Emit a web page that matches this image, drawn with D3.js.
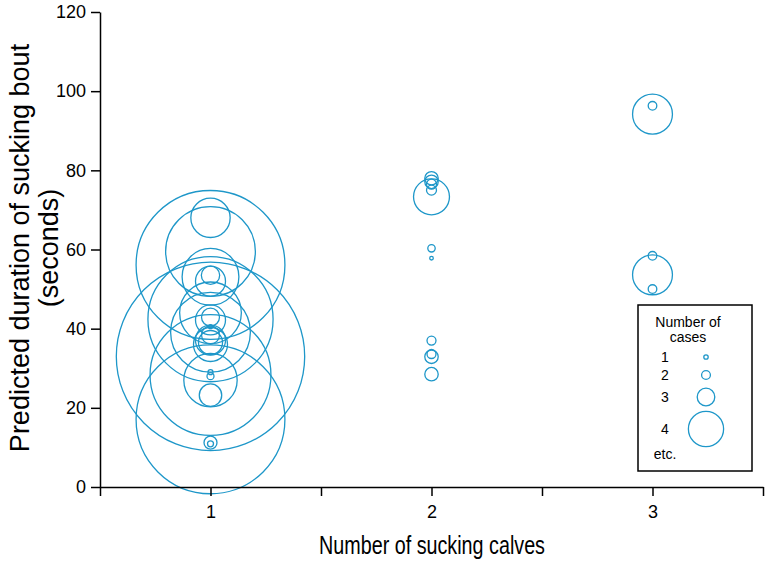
<!DOCTYPE html>
<html>
<head>
<meta charset="utf-8">
<script src="https://cdn.jsdelivr.net/npm/d3@7"></script>
<style>
  html, body { margin: 0; padding: 0; background: #fff; }
  svg { display: block; font-family: "Liberation Sans", Arial, sans-serif; }
</style>
</head>
<body>
<svg id="chart" width="768" height="566"></svg>
<script>
// ---- data ----
const calves   = [1,1,1,1,1,1,1,1,1,1,1,1,1,1,1,1,1,1,1,1,1,1,1,1,1,
                  2,2,2,2,2,2,2,2,2,2,2,
                  3,3,3,3,3];
const duration = [56.1,68.0,59.5,53.1,53.5,52.0,42.4,33.0,28.3,17.1,39.1,44.0,27.0,23.2,29.0,28.0,11.2,10.9,42.9,42.2,40.5,38.4,37.1,36.5,36.0,
                  73.3,78.0,77.1,76.5,75.0,60.3,57.8,37.0,33.6,32.9,28.5,
                  94.2,96.3,53.6,58.4,50.0];
const caseWeight = [6.08,4.16,5.35,4.69,3.06,3.77,5.83,6.42,5.78,6.08,5.18,4.81,4.60,3.35,1.18,1.67,2.56,1.45,3.03,3.77,0.86,3.03,3.77,3.45,3.95,
                    4.03,2.61,2.61,2.18,2.18,1.75,0.71,2.03,2.03,2.61,2.61,
                    4.18,1.97,4.18,1.97,1.97];
const yTicks = [0,20,40,60,80,100,120];
const xTicks = [0.5,1,1.5,2,2.5,3,3.5];
const xTickLabels = ["", "1", "", "2", "", "3", ""];
const legendCases = [1,2,3,4];
const legendLabels = ["1","2","3","4"];

const points = calves.map((c,i) => ({x:c, y:duration[i], w:caseWeight[i]}));

// ---- scales ----
const svg = d3.select("#chart");
const x = d3.scaleLinear().domain([0.5, 3.5]).range([100, 763]);
const y = d3.scaleLinear().domain([0, 120]).range([487, 12]);
// radius doubles per case step: log2 scale inverted
const rScale = d3.scaleLog().base(2).domain([2.2, 17.6]).range([1, 4]);
const r = w => rScale.invert(w);
const blue = "#1e97c9";

// ---- circles ----
svg.append("g").selectAll("circle").data(points).join("circle")
  .attr("cx", d => x(d.x))
  .attr("cy", d => y(d.y))
  .attr("r", d => r(d.w))
  .attr("fill", "none")
  .attr("stroke", blue)
  .attr("stroke-width", 1.3);

// ---- axes ----
const yAxis = d3.axisLeft(y).tickValues(yTicks).tickSize(9).tickSizeOuter(0).tickPadding(5);
const gy = svg.append("g").attr("transform", "translate(100,0)").call(yAxis);
const xAxis = d3.axisBottom(x).tickValues(xTicks).tickSize(9).tickSizeOuter(0).tickPadding(9)
  .tickFormat((d,i) => xTickLabels[i]);
const gx = svg.append("g").attr("transform", "translate(0,487)").call(xAxis);
[gx, gy].forEach(g => {
  g.select(".domain").attr("stroke", "#000").attr("stroke-width", 1.5);
  g.selectAll(".tick line").attr("stroke", "#000").attr("stroke-width", 1.5);
  g.selectAll(".tick text").attr("fill", "#000").style("font-size", "18px")
    .style("font-family", "'Liberation Sans', Arial, sans-serif");
});

// ---- axis titles ----
svg.append("text")
  .attr("x", 432).attr("y", 554)
  .attr("text-anchor", "middle")
  .attr("textLength", 226)
  .attr("lengthAdjust", "spacingAndGlyphs")
  .style("font-size", "26px")
  .text("Number of sucking calves");

const yt = svg.append("text")
  .attr("transform", "translate(0,248) rotate(-90)")
  .attr("text-anchor", "middle")
  .style("font-size", "27px");
yt.append("tspan").attr("x", 0).attr("y", 29).text("Predicted duration of sucking bout");
yt.append("tspan").attr("x", 0).attr("y", 58).text("(seconds)");

// ---- legend ----
const lg = svg.append("g").attr("transform", "translate(638,305)");
lg.append("rect").attr("width", 114).attr("height", 166)
  .attr("fill", "#fff").attr("stroke", "#000").attr("stroke-width", 1.5);
lg.append("text").attr("x", 50).attr("y", 22).attr("text-anchor", "middle")
  .style("font-size", "14px").text("Number of");
lg.append("text").attr("x", 50).attr("y", 37).attr("text-anchor", "middle")
  .style("font-size", "14px").text("cases");
const legendY = [52, 70, 92, 124];
legendCases.forEach((c, i) => {
  lg.append("circle").attr("cx", 68).attr("cy", legendY[i]).attr("r", r(c))
    .attr("fill", "none").attr("stroke", blue).attr("stroke-width", 1.3);
  lg.append("text").attr("x", 27).attr("y", legendY[i] + 5).attr("text-anchor", "middle")
    .style("font-size", "14px").text(legendLabels[i]);
});
lg.append("text").attr("x", 27).attr("y", 154).attr("text-anchor", "middle")
  .style("font-size", "14px").text("etc.");
</script>
</body>
</html>
